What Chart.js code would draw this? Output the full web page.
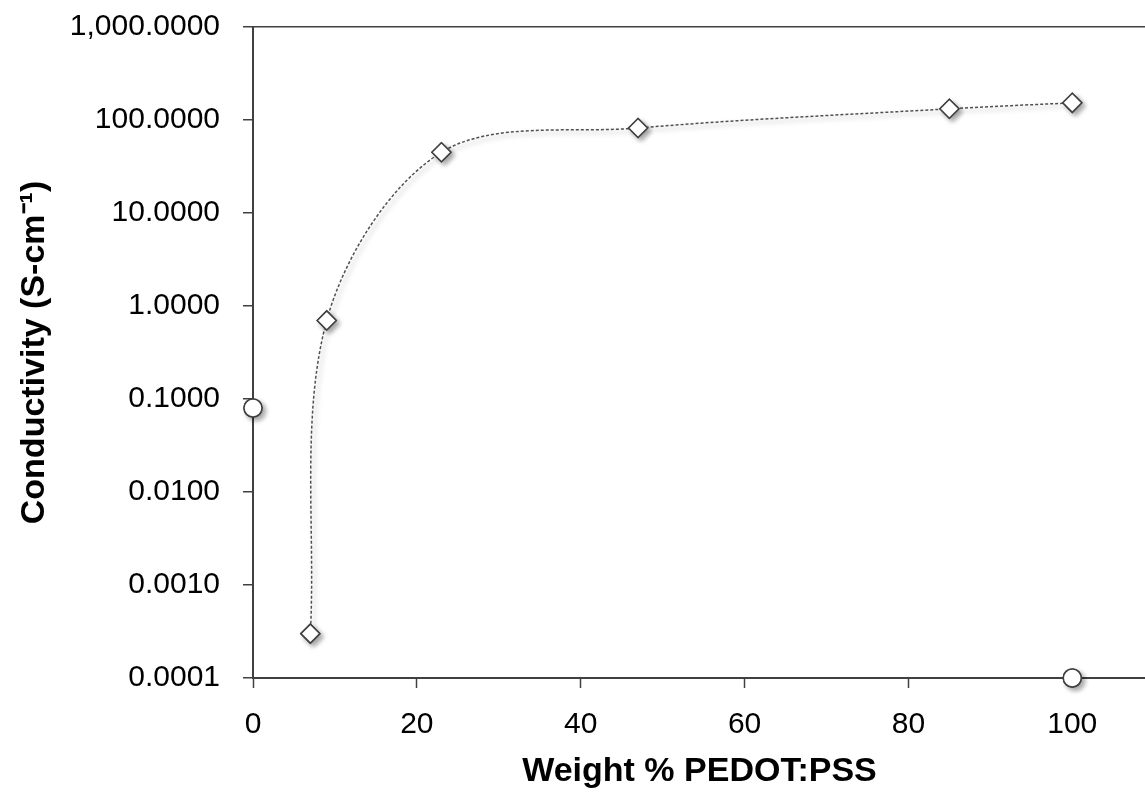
<!DOCTYPE html>
<html>
<head>
<meta charset="utf-8">
<script src="https://cdn.jsdelivr.net/npm/chart.js@4.4.1/dist/chart.umd.min.js"></script>
<style>
    html, body { margin: 0; padding: 0; background: #fff; overflow: hidden; }
    /* a little wider than the window so the x axis runs off the right edge like the original */
    #wrap { width: 1157px; height: 796px; position: relative; }
    #chartConductivity { display: block; }
</style>
</head>
<body>
<div id="wrap"><canvas id="chartConductivity"></canvas></div>
<script>
// ---------- DATA ----------
const weightPct = [7, 9, 23, 47, 85, 100];
const conductivity = [0.0003, 0.7, 45, 82, 132, 153];
const refWeightPct = [0, 100];
const refConductivity = [0.08, 0.0001];
const xTicks = [0, 20, 40, 60, 80, 100];
const yTicks = [0.0001, 0.001, 0.01, 0.1, 1, 10, 100, 1000];

const axisColor = '#404040';
const tickFont = { family: 'Liberation Sans, Arial, sans-serif', size: 30 };
const titleFont = { family: 'Liberation Sans, Arial, sans-serif', size: 34, weight: 'bold' };

// SHADOW UNDER MARKERS AND LINE, THEN MARKERS AGAIN ON TOP WITHOUT SHADOW
const shadowPlugin = {
    id: 'shadow',
    beforeDatasetsDraw(chart) {
        const ctx = chart.ctx;
        ctx.save();
        ctx.shadowColor = 'rgba(0,0,0,0.35)';
        ctx.shadowBlur = 5;
        ctx.shadowOffsetX = 3;
        ctx.shadowOffsetY = 3;
    },
    afterDatasetsDraw(chart) {
        chart.ctx.restore();
        chart.data.datasets.forEach((ds, i) => {
            chart.getDatasetMeta(i).data.forEach(pt => pt.draw(chart.ctx, chart.chartArea));
        });
    }
};

// ---------- CHART ----------
const ctx = document.getElementById('chartConductivity');
new Chart(ctx, {
    type: 'scatter',
    data: {
        datasets: [{
            label: 'PEDOT:PSS',
            data: weightPct.map((x, i) => ({ x: x, y: conductivity[i] })),
            showLine: true,
            tension: 0.33,
            borderColor: '#505050',
            borderWidth: 1.5,
            borderDash: [3, 2],
            pointStyle: 'rectRot',
            pointRadius: 9.5,
            pointBackgroundColor: '#fff',
            pointBorderColor: axisColor,
            pointBorderWidth: 1.5,
            clip: false
        },
        {
            label: 'Reference',
            data: refWeightPct.map((x, i) => ({ x: x, y: refConductivity[i] })),
            showLine: false,
            pointStyle: 'circle',
            pointRadius: 9,
            pointBackgroundColor: '#fff',
            pointBorderColor: axisColor,
            pointBorderWidth: 1.5,
            clip: false
        }]
    },
    options: {
        responsive: true,
        maintainAspectRatio: false,
        animation: false,
        layout: { padding: { left: 0, right: 0, top: 27, bottom: 0 } },
        plugins: {
            legend: { display: false },
            tooltip: { enabled: false }
        },
        scales: {
            x: {
                type: 'linear',
                min: 0,
                max: 109,
                afterBuildTicks: (scale) => { scale.ticks = xTicks.map(v => ({ value: v })); },
                afterFit: (scale) => {
                    scale.height = 118;
                    scale.paddingLeft = 0;
                    scale.paddingRight = 0;
                },
                grid: { drawOnChartArea: false, drawTicks: true, tickLength: 10, tickColor: axisColor, tickWidth: 1.5 },
                border: { display: true, color: axisColor, width: 2 },
                ticks: { color: '#000', font: tickFont, padding: 19, maxRotation: 0 },
                title: { display: true, text: 'Weight % PEDOT:PSS', color: '#000', font: titleFont, padding: { top: 0, bottom: 4 } }
            },
            y: {
                type: 'logarithmic',
                min: 0.0001,
                max: 1000,
                afterBuildTicks: (scale) => { scale.ticks = yTicks.map(v => ({ value: v })); },
                afterFit: (scale) => {
                    scale.width = 253;
                    scale.paddingTop = 0;
                    scale.paddingBottom = 0;
                },
                grid: {
                    drawOnChartArea: true,
                    drawTicks: true,
                    tickLength: 10,
                    color: (c) => (c.tick && c.tick.value === 1000 ? axisColor : 'rgba(0,0,0,0)'),
                    lineWidth: 1.5,
                    tickColor: axisColor,
                    tickWidth: 1.5
                },
                border: { display: true, color: axisColor, width: 2 },
                ticks: {
                    color: '#000',
                    font: tickFont,
                    padding: 23,
                    callback: (v) => Number(v).toLocaleString('en-US', { minimumFractionDigits: 4, maximumFractionDigits: 4 })
                },
                title: { display: true, text: 'Conductivity (S-cm\u207B\u00B9)', color: '#000', font: titleFont, padding: { top: 14, bottom: 0 } }
            }
        }
    },
    plugins: [shadowPlugin]
});
</script>
</body>
</html>
